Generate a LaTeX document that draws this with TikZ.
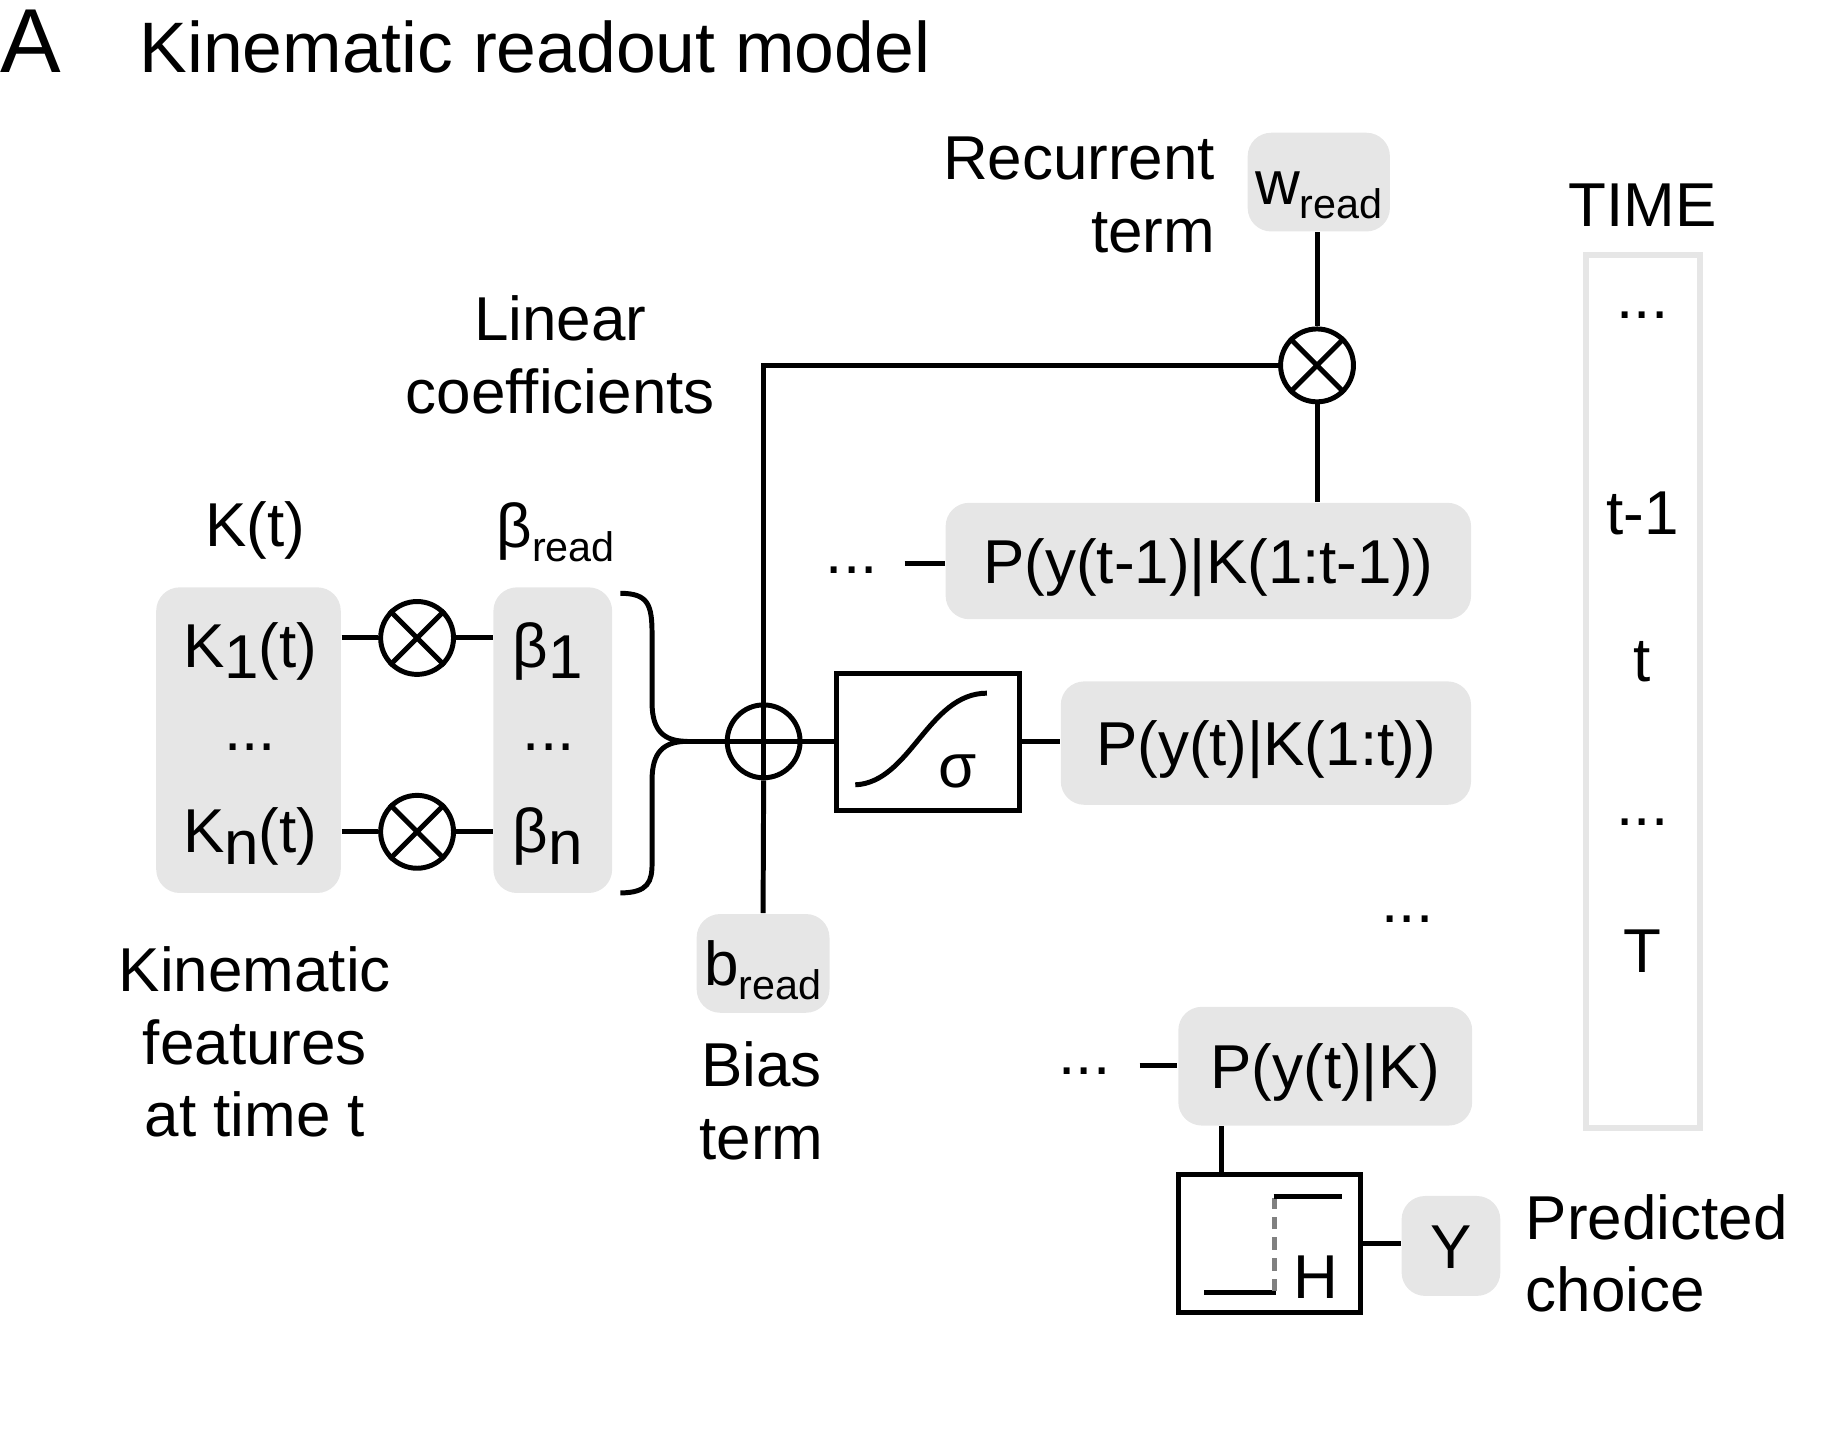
\documentclass[tikz,border=0pt]{standalone}
\usepackage{fontspec}
\setmainfont{Liberation Sans}
\usetikzlibrary{calc}
\definecolor{boxgray}{HTML}{E6E6E6}
\definecolor{dashgray}{HTML}{808080}
\newcommand{\dn}[1]{\raisebox{-2.8pt}{#1}}
\newcommand{\rd}[1]{\raisebox{-3.4pt}{\fontsize{10}{10}\selectfont #1}}
\tikzset{
  wire/.style={draw=black, line width=1.2pt},
  gbox/.style={fill=boxgray, rounded corners=2mm, inner sep=0pt, text height=10.7pt, text depth=0pt, font=\fontsize{15}{17.5}\selectfont},
  blk/.style={draw=black, line width=1.2pt, inner sep=0pt},
  op/.style={circle, draw=black, line width=1.2pt, minimum size=0.62cm, inner sep=0pt},
  lab/.style={font=\fontsize{15}{17.5}\selectfont, inner sep=0pt},
}
\begin{document}
\begin{tikzpicture}[x=0.01cm, y=-0.01cm]
  \useasboundingbox (0,0) rectangle (1567,1218);

  % title
  \node[anchor=base west, inner sep=0pt, font=\fontsize{22}{22}\selectfont] (panel) at (0,62) {A};
  \node[anchor=base west, inner sep=0pt, font=\fontsize{17.3}{17.3}\selectfont] (title) at (118,62) {Kinematic readout model};

  % features and coefficients
  \node[gbox, minimum width=1.57cm, minimum height=2.6cm] (kbox) at (211.5,630) {};
  \node[gbox, minimum width=1.01cm, minimum height=2.6cm] (bbox) at (470.5,630) {};
  \node[lab, anchor=base] (kt) at (217,465) {K(t)};
  \node[lab, anchor=base] (bt) at (473,466) {β\rd{read}};
  \node[lab, anchor=base] (k1) at (213,568) {K\dn{1}(t)};
  \node[lab] (kd) at (213,636) {...};
  \node[lab, anchor=base] (kn) at (213,726) {K\dn{n}(t)};
  \node[lab, anchor=base] (b1) at (466,568) {β\dn{1}};
  \node[lab] (bd) at (467,636) {...};
  \node[lab, anchor=base] (bn) at (466,726) {β\dn{n}};
  \node[lab, align=center] (lincoef) at (477,302) {Linear\\coefficients};
  \node[lab, align=center] (kinfeat) at (217,887) {Kinematic\\features\\at time t};

  \node[op] (m1) at (355,543) {};
  \node[op] (mn) at (355,708) {};
  \foreach \m in {m1,mn}
    \draw[wire] (\m.45) -- (\m.225) (\m.135) -- (\m.315);
  \draw[wire] (kbox.east |- m1) -- (m1.west);
  \draw[wire] (m1.east) -- (bbox.west |- m1);
  \draw[wire] (kbox.east |- mn) -- (mn.west);
  \draw[wire] (mn.east) -- (bbox.west |- mn);

  % brace into the sum
  \coordinate (btop) at (528,505);
  \coordinate (tip) at (585,631);
  \coordinate (bbot) at (528,760);
  \draw[wire] (btop) .. controls (552,505) and (555,515) .. (555,540) -- (555,598)
    .. controls (555,622) and (565,631) .. (tip)
    .. controls (565,631) and (555,640) .. (555,664) -- (555,735)
    .. controls (555,750) and (552,760) .. (bbot);

  \node[op] (sum) at (650,631) {};
  \draw[wire] (sum.north) -- (sum.south) (sum.west) -- (sum.east);
  \draw[wire] (tip) -- (sum.west);

  % bias and recurrent terms
  \node[gbox, minimum width=1.13cm, minimum height=0.84cm] (bread) at (649.5,820) {b\rd{read}};
  \node[lab, align=center] (biasl) at (648,937) {Bias\\term};
  \node[gbox, minimum width=1.21cm, minimum height=0.84cm] (wread) at (1122.5,155) {w\rd{read}};
  \node[lab, align=right, anchor=east] (recl) at (1035,166) {Recurrent\\term};
  \node[op] (rec) at (1121,311) {};
  \draw[wire] (rec.45) -- (rec.225) (rec.135) -- (rec.315);
  \draw[wire] (rec.north |- wread.south) -- (rec.north);
  \draw[wire] (rec.west) -| (sum.north);
  \draw[wire] (sum.south) -- (bread.north);

  % sigmoid
  \node[blk, minimum width=1.56cm, minimum height=1.17cm] (sig) at (790,631.5) {};
  \draw[wire] (728,668) .. controls (775,666) and (790,590) .. (840,590);
  \node[lab, anchor=base] (sg) at (815,670) {σ};
  \draw[wire] (sum.east) -- (sum.east -| sig.west);

  % probabilities
  \node[gbox, minimum width=4.47cm, minimum height=0.99cm] (pprev) at (1028.5,477.5) {P(y(t-1)|K(1:t-1))};
  \node[gbox, minimum width=3.49cm, minimum height=1.05cm] (pnow) at (1077.5,632.5) {P(y(t)|K(1:t))};
  \node[gbox, minimum width=2.5cm, minimum height=1.01cm] (pfin) at (1128,907.5) {P(y(t)|K)};
  \draw[wire] (sig.east) -- (sig.east -| pnow.west);
  \draw[wire] (rec.south) -- (rec.south |- pprev.north);
  \node[lab] (d1l) at (725,485) {...};
  \coordinate (d1) at (770,480);
  \draw[wire] (d1) -- (d1 -| pprev.west);
  \node[lab] (d2l) at (1198,782) {...};
  \node[lab] (d3l) at (923,912) {...};
  \coordinate (d3) at (970,907);
  \draw[wire] (d3) -- (d3 -| pfin.west);

  % threshold and choice
  \node[blk, minimum width=1.55cm, minimum height=1.17cm] (hbox) at (1080.5,1058.5) {};
  \coordinate (hx) at (1040,1000);
  \draw[wire] (pfin.south -| hx) -- (hbox.north -| hx);
  \draw[wire] (1025,1100) -- (1086,1100);
  \draw[dashgray, line width=1.2pt, dash pattern=on 3pt off 2pt] (1085,1099) -- (1085,1020);
  \draw[wire] (1084,1018) -- (1142,1018);
  \node[lab, anchor=base] (hl) at (1120,1105) {H};
  \node[gbox, minimum width=0.84cm, minimum height=0.85cm] (ybox) at (1235,1060.5) {Y};
  \draw[wire] (hbox.east) -- (hbox.east -| ybox.west);
  \node[lab, align=left, anchor=west] (predl) at (1298,1067) {Predicted\\choice};

  % time column
  \node[lab, anchor=base] (timel) at (1398,193) {TIME};
  \node[draw=boxgray, line width=1.4pt, minimum width=0.97cm, minimum height=7.43cm] (tcol) at (1398.5,588.5) {};
  \node[lab] (t0) at (1398,268) {...};
  \node[lab, anchor=base] (t1) at (1398,455) {t-1};
  \node[lab, anchor=base] (t2) at (1398,580) {t};
  \node[lab] (t3) at (1398,700) {...};
  \node[lab, anchor=base] (t4) at (1398,828) {T};
\end{tikzpicture}
\end{document}
